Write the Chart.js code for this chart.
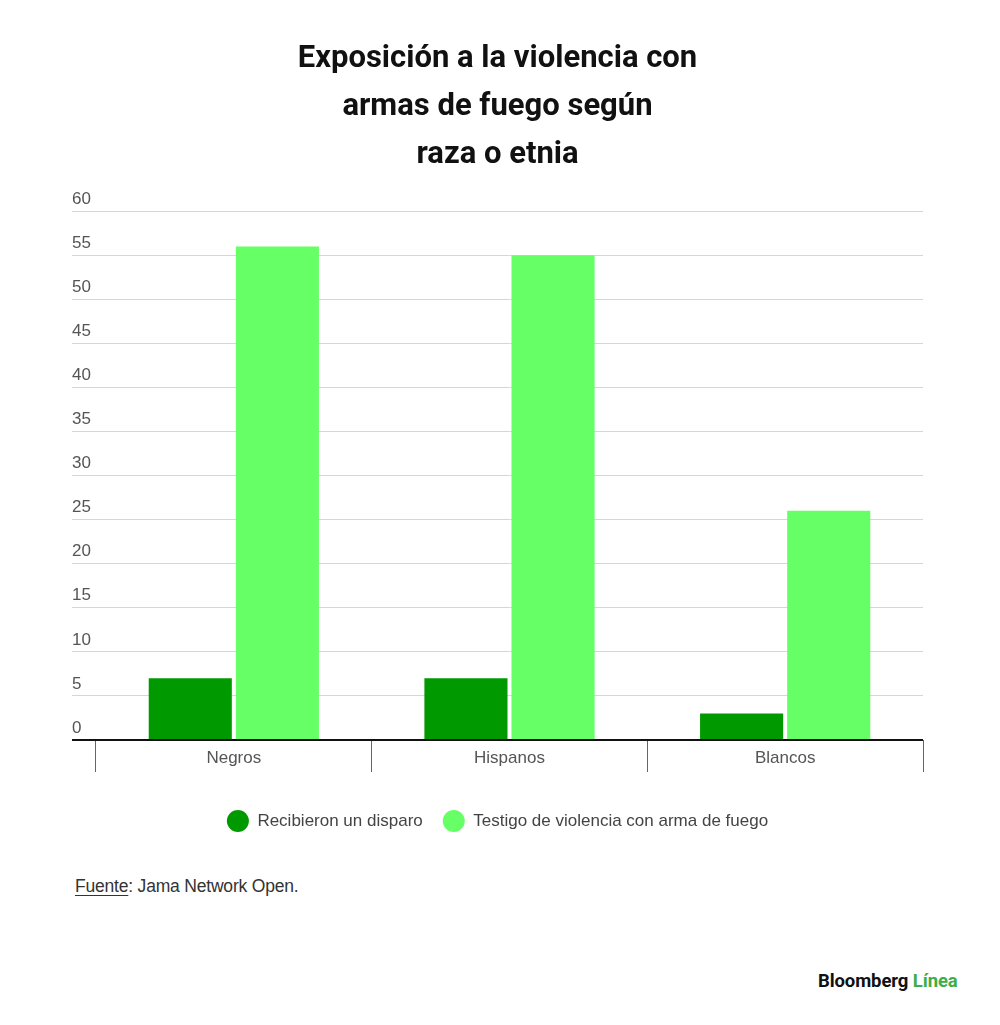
<!DOCTYPE html>
<html>
<head>
<meta charset="utf-8">
<script src="https://cdn.jsdelivr.net/npm/chart.js@4.4.1/dist/chart.umd.min.js"></script>
<style>
  html, body { margin: 0; padding: 0; background: #fff; }
  body { width: 1000px; height: 1025px; position: relative; overflow: hidden; font-family: "Liberation Sans", Arial, sans-serif; }
  #wrap { position: absolute; left: 0; top: 0; width: 1000px; height: 842px; }
  #source { position: absolute; left: 75px; top: 876px; font-size: 17.5px; color: #333; letter-spacing: -0.2px; }
  #source u { text-decoration: underline; text-underline-offset: 3px; }
  #logo { position: absolute; left: 818px; top: 970px; font-size: 18.5px; font-weight: 700; color: #111; font-family: Roboto, sans-serif; letter-spacing: -0.1px; }
  #logo span { color: #3dae47; }
</style>
</head>
<body>
<div id="wrap"><canvas id="c"></canvas></div>
<div id="source"><u>Fuente</u>: Jama Network Open.</div>
<div id="logo">Bloomberg <span>Línea</span></div>
<script>
const categories = ["Negros", "Hispanos", "Blancos"];
const seriesNames = ["Recibieron un disparo", "Testigo de violencia con arma de fuego"];
const recibieronDisparo = [7, 7, 3];
const testigoViolencia = [56, 55, 26];
const titleLines = ["Exposición a la violencia con", "armas de fuego según", "raza o etnia"];

const FONT = "'Liberation Sans', Arial, sans-serif";
const TITLE_FONT = "Roboto, 'Liberation Sans', sans-serif";

new Chart(document.getElementById('c'), {
  type: 'bar',
  data: {
    labels: categories,
    datasets: [
      { label: seriesNames[0], data: recibieronDisparo, backgroundColor: '#009a00', borderWidth: 0 },
      { label: seriesNames[1], data: testigoViolencia, backgroundColor: '#66ff66', borderWidth: 0 }
    ]
  },
  options: {
    responsive: true,
    maintainAspectRatio: false,
    animation: false,
    layout: { padding: { left: 72, right: 77, top: 0, bottom: 0 } },
    datasets: { bar: { categoryPercentage: 0.632, barPercentage: 0.954 } },
    plugins: {
      title: {
        display: true,
        text: titleLines,
        color: '#111',
        font: { family: TITLE_FONT, size: 31, weight: '700', lineHeight: 1.55 },
        padding: { top: 35, bottom: 32 }
      },
      legend: {
        position: 'bottom',
        labels: {
          color: '#444',
          font: { family: FONT, size: 17 },
          boxWidth: 22,
          boxHeight: 22,
          useBorderRadius: true,
          borderRadius: 11,
          padding: 20
        }
      },
      tooltip: { enabled: false }
    },
    scales: {
      x: {
        grid: { display: true, drawOnChartArea: false, offset: true, tickLength: 32, color: '#666', lineWidth: 1 },
        border: { display: false },
        ticks: { color: '#555', font: { family: FONT, size: 17 }, padding: -24 },
        afterFit: (axis) => { axis.height = 50; }
      },
      y: {
        min: 0,
        max: 60,
        ticks: {
          stepSize: 5,
          color: '#555',
          font: { family: FONT, size: 17 },
          crossAlign: 'far',
          labelOffset: -12,
          padding: 0
        },
        grid: {
          tickLength: 24,
          color: (ctx) => (ctx.tick && ctx.tick.value === 0) ? '#111' : '#d6d6d6',
          lineWidth: (ctx) => (ctx.tick && ctx.tick.value === 0) ? 2 : 1
        },
        border: { display: false },
        afterFit: (axis) => { axis.width = 24; }
      }
    }
  }
});
</script>
</body>
</html>
